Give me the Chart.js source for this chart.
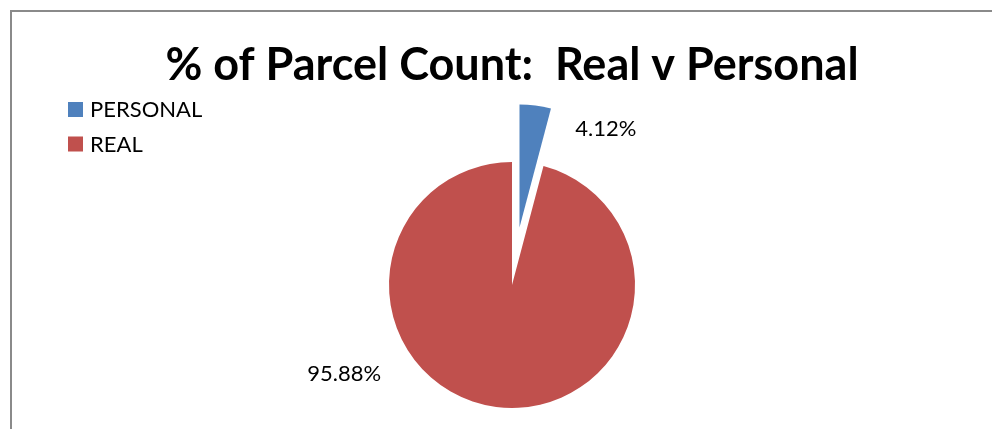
<!DOCTYPE html>
<html>
<head>
<meta charset="utf-8">
<script src="https://cdn.jsdelivr.net/npm/chart.js@4"></script>
<style>
  html, body { margin: 0; padding: 0; background: #fff; overflow: hidden; }
  #wrap { width: 992px; height: 429px; position: relative; }
</style>
</head>
<body>
<div id="wrap"><canvas id="pieChart" width="992" height="429"></canvas></div>
<script>
// chart data
const categories = ['PERSONAL', 'REAL'];
const shares = [4.12, 95.88];
const valueLabels = ['4.12%', '95.88%'];
const sliceColors = ['#4F81BD', '#C0504D'];

// how far each slice is pulled out of the pie (px)
const pullOut = [58, 0];

// where each value label sits, polar from pie centre (degrees, px)
const labelAngle = [-59, 152];
const labelDist = [182, 190];

const fontFamily = 'Lato, "Open Sans", sans-serif';

// frame line (top + left, the rest runs off the picture)
const framePlugin = {
    id: 'frame',
    beforeDraw(chart) {
        const ctx = chart.ctx;
        ctx.save();
        ctx.strokeStyle = '#8a8a8a';
        ctx.lineWidth = 2;
        ctx.beginPath();
        ctx.moveTo(11, 429);
        ctx.lineTo(11, 11);
        ctx.lineTo(992, 11);
        ctx.stroke();
        ctx.restore();
    }
};

// Chart.js shrinks/enlarges exploded arcs, so move the arcs ourselves
const explode = {
    id: 'explode',
    beforeDatasetDraw(chart, args) {
        const ctx = chart.ctx;
        args.meta.data.forEach((arc, i) => {
            const mid = (arc.startAngle + arc.endAngle) / 2;
            ctx.save();
            ctx.translate(Math.cos(mid) * pullOut[i], Math.sin(mid) * pullOut[i]);
            arc.draw(ctx);
            ctx.restore();
        });
        return false;
    }
};

// legend in the top-left corner, Excel style
const sideLegend = {
    id: 'sideLegend',
    afterDraw(chart) {
        const ctx = chart.ctx;
        ctx.save();
        ctx.font = '22px ' + fontFamily;
        ctx.textBaseline = 'middle';
        ctx.textAlign = 'left';
        categories.forEach((name, i) => {
            const y = 102 + i * 34.5;
            ctx.fillStyle = sliceColors[i];
            ctx.fillRect(68, y, 15, 15);
            ctx.fillStyle = '#000';
            ctx.fillText(name, 90, y + 8);
        });
        ctx.restore();
    }
};

// percentage labels next to the slices
const sliceLabels = {
    id: 'sliceLabels',
    afterDraw(chart) {
        const ctx = chart.ctx;
        const arcs = chart.getDatasetMeta(0).data;
        ctx.save();
        ctx.font = '22px ' + fontFamily;
        ctx.fillStyle = '#000';
        ctx.textAlign = 'center';
        ctx.textBaseline = 'middle';
        arcs.forEach((arc, i) => {
            const a = labelAngle[i] * Math.PI / 180;
            const x = arc.x + Math.cos(a) * labelDist[i];
            const y = arc.y + Math.sin(a) * labelDist[i];
            ctx.fillText(valueLabels[i], x, y);
        });
        ctx.restore();
    }
};

const ctx = document.getElementById('pieChart').getContext('2d');
const pie = new Chart(ctx, {
    type: 'pie',
    data: {
        labels: categories,
        datasets: [{
            data: shares,
            backgroundColor: sliceColors,
            borderWidth: 0,
            clip: false
        }]
    },
    options: {
        responsive: false,
        animation: false,
        radius: 123,
        layout: { padding: { left: 32, right: 0, top: 0, bottom: 0 } },
        plugins: {
            legend: { display: false },
            tooltip: { enabled: false },
            title: {
                display: true,
                text: '% of Parcel Count:  Real v Personal',
                color: '#000',
                font: { family: fontFamily, size: 45, weight: 'bold', lineHeight: 1.2 },
                padding: { top: 38, bottom: 49 }
            }
        }
    },
    plugins: [framePlugin, explode, sideLegend, sliceLabels]
});
</script>
</body>
</html>
